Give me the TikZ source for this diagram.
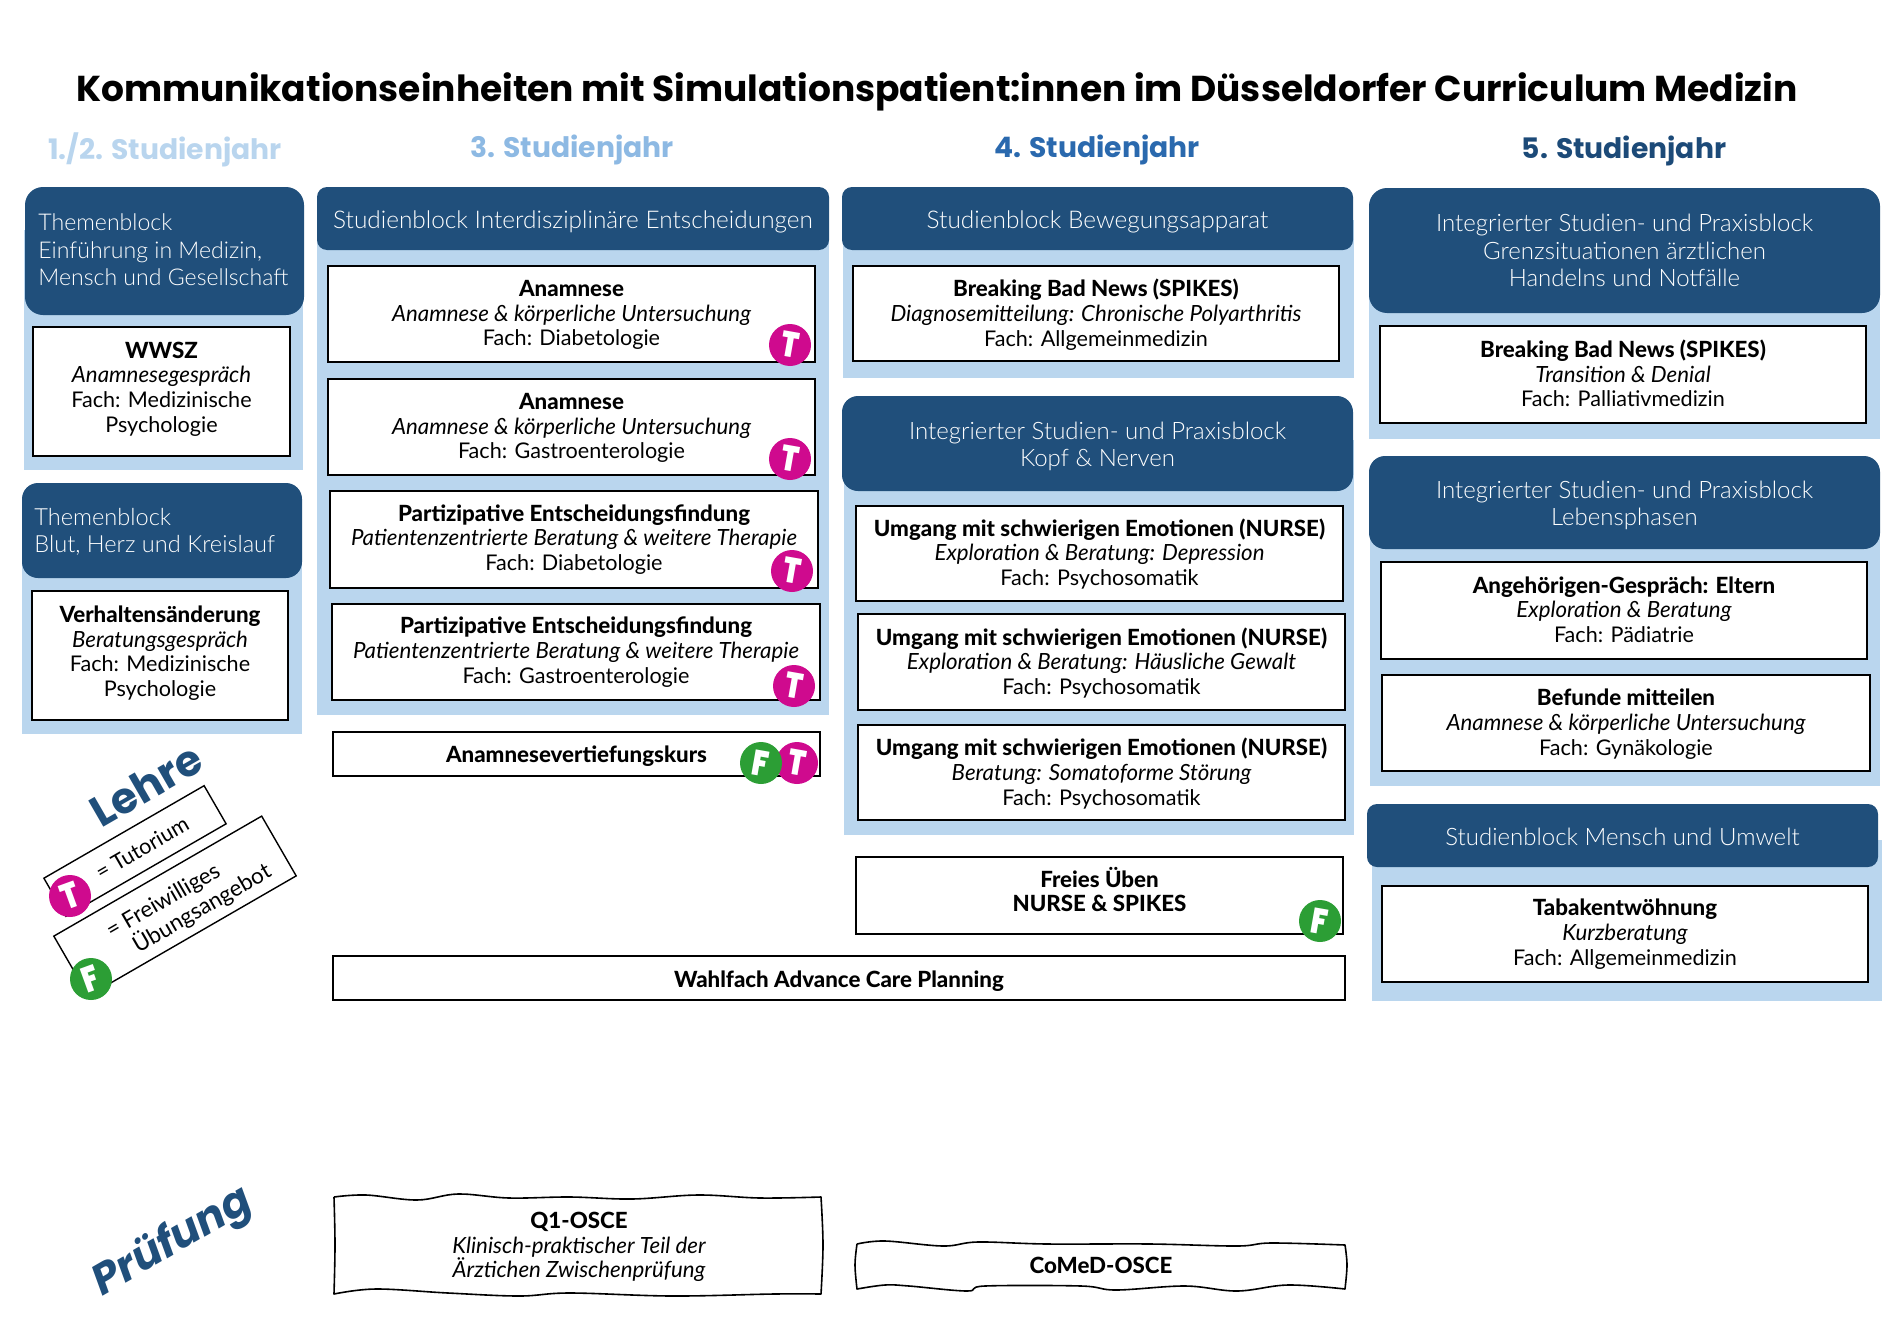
\documentclass[tikz,border=0pt]{standalone}
\usepackage{fontspec}
\setmainfont{Lato}[BoldFont={Lato Heavy}]
\newfontfamily\headfont{Lato Light}
\newfontfamily\titlefont{Poppins}
\newfontfamily\badgefont{Poppins Black}
\definecolor{headblue}{HTML}{204F7B}
\definecolor{panelblue}{HTML}{BAD6EE}
\definecolor{tmag}{HTML}{CF0A8E}
\definecolor{fgreen}{HTML}{2C9E35}
\definecolor{yearA}{HTML}{B9D5EE}
\definecolor{yearB}{HTML}{8DB9E3}
\definecolor{yearC}{HTML}{2A69AE}
\definecolor{yearD}{HTML}{1C4A78}
\newcommand{\bodysize}{\fontsize{10.8}{12.35}\selectfont}
\newcommand{\lbold}[1]{{\fontsize{11.15}{12.35}\selectfont\bfseries #1}}
\newcommand{\lital}[1]{{\fontsize{11.15}{12.35}\selectfont\itshape #1}}
\newcommand{\headsize}{\headfont\fontsize{12.0}{13.7}\selectfont}
\tikzset{
  x=0.5pt,y=-0.5pt,
  panelbox/.style={fill=panelblue,draw=none,inner sep=0pt},
  headbox/.style={fill=headblue,draw=none,rounded corners=5pt,inner sep=0pt},
  headlabel/.style={inner sep=0pt,text=white,align=center,font=\headsize},
  whitebox/.style={fill=white,draw=black,line width=0.9pt,inner sep=0pt},
  boxlabel/.style={inner sep=0pt,align=center,font=\bodysize},
  yeartext/.style={font=\titlefont\bfseries\fontsize{14.1}{17}\selectfont,inner sep=0pt},
  badge/.style={circle,minimum size=21pt,inner sep=0pt,text=white,font=\badgefont\fontsize{17}{17}\selectfont},
  tbadge/.style={badge,fill=tmag},
  fbadge/.style={badge,fill=fgreen},
  wavy/.style={line width=0.8pt,line join=round},
  legendbox/.style={draw=black,line width=0.7pt,fill=white,inner sep=0pt,rotate=30},
}
\newcommand{\rectnode}[6]{% style,name,x1,y1,x2,y2
  \pgfmathsetmacro{\rw}{(#5-#3)*0.5}\pgfmathsetmacro{\rh}{(#6-#4)*0.5}
  \node[#1,minimum width=\rw pt,minimum height=\rh pt] (#2) at ({(#3+#5)/2},{(#4+#6)/2}) {};}
% name, x1,y1,x2,y2, label dy, text
\newcommand{\boxat}[7]{\rectnode{whitebox}{#1}{#2}{#3}{#4}{#5}
  \node[boxlabel] (#1t) at ({(#2+#4)/2},{(#3+#5)/2+#6}) {#7};}
\newcommand{\lehre}[9]{\boxat{#1}{#2}{#3}{#4}{#5}{#6}{\lbold{#7}\\\lital{#8}\\#9}}
% head: style extra, name, x1,y1,x2,y2, label dy, text
\newcommand{\headat}[8]{\rectnode{headbox,#1}{#2}{#3}{#4}{#5}{#6}
  \node[headlabel] (#2t) at ({(#3+#5)/2},{(#4+#6)/2+#7}) {#8};}
\newcommand{\letterT}{\scalebox{0.82}[1.05]{T}}
\newcommand{\letterF}{\scalebox{0.82}[1.05]{F}}
\newcommand{\tbadgeat}[3]{\node[tbadge] (#1) at (#2,#3) {\rotatebox{-10}{\letterT}};}
\newcommand{\fbadgeat}[3]{\node[fbadge] (#1) at (#2,#3) {\rotatebox{-10}{\letterF}};}
\begin{document}
\begin{tikzpicture}
\useasboundingbox (0,0) rectangle (1900,1343);
% title
\node[font=\titlefont\bfseries\fontsize{18.0}{22}\selectfont,inner sep=0pt] (title) at (937,92) {Kommunikationseinheiten mit Simulationspatient:innen im Düsseldorfer Curriculum Medizin};
\node[yeartext,text=yearA] (y1) at (165,150) {1./2. Studienjahr};
\node[yeartext,text=yearB] (y3) at (572,150) {3. Studienjahr};
\node[yeartext,text=yearC] (y4) at (1097,150) {4. Studienjahr};
\node[yeartext,text=yearD] (y5) at (1624,151) {5. Studienjahr};
% panels
\rectnode{panelbox}{p1}{24}{230}{303}{470}
\rectnode{panelbox}{p2}{22}{520}{302}{734}
\rectnode{panelbox}{p3}{317}{220}{829}{715}
\rectnode{panelbox}{p4}{843}{220}{1354}{378}
\rectnode{panelbox}{p5}{844}{440}{1354}{835}
\rectnode{panelbox}{p6}{1369}{240}{1880}{439}
\rectnode{panelbox}{p7}{1370}{500}{1880}{786}
\rectnode{panelbox}{p8}{1372}{840}{1882}{1001}
% heads
\rectnode{headbox,rounded corners=9pt}{h1}{25}{187}{304}{315}
\node[headlabel,align=left,anchor=west,font=\headfont\fontsize{11.55}{13.7}\selectfont] (h1t) at (38,250) {Themenblock\\Einführung in Medizin,\\Mensch und Gesellschaft};
\rectnode{headbox,rounded corners=8pt}{h2}{22}{483}{302}{578}
\node[headlabel,align=left,anchor=west,font=\headfont\fontsize{11.8}{13.7}\selectfont] (h2t) at (34,532) {Themenblock\\Blut, Herz und Kreislauf};
\rectnode{headbox}{h3}{317}{187}{829}{250}
\node[headlabel,font=\headfont\fontsize{12.2}{13.7}\selectfont] (h3t) at (573,222) {Studienblock Interdisziplinäre Entscheidungen};
\rectnode{headbox}{h4}{842}{187}{1353}{250}
\node[headlabel,font=\headfont\fontsize{12.2}{13.7}\selectfont] (h4t) at (1097.5,222) {Studienblock Bewegungsapparat};
\headat{rounded corners=8pt}{h5}{842}{396}{1353}{491}{3}{Integrierter Studien- und Praxisblock\\Kopf \& Nerven}
\headat{rounded corners=9pt}{h6}{1369}{188}{1880}{313}{0}{Integrierter Studien- und Praxisblock\\Grenzsituationen ärztlichen\\Handelns und Notfälle}
\headat{rounded corners=8pt}{h7}{1369}{456}{1880}{549}{3}{Integrierter Studien- und Praxisblock\\Lebensphasen}
\headat{}{h8}{1367}{804}{1878}{867}{1}{Studienblock Mensch und Umwelt}
% boxes col 1
\lehre{a1}{33}{327}{290}{456}{-2.4}{WWSZ}{Anamnesegespräch}{Fach: Medizinische\\Psychologie}
\lehre{a2}{32}{591}{288}{720}{-2.4}{Verhaltensänderung}{Beratungsgespräch}{Fach: Medizinische\\Psychologie}
% col 2
\lehre{b1}{328}{266}{815}{362}{1}{Anamnese}{Anamnese \& körperliche Untersuchung}{Fach: Diabetologie}
\lehre{b2}{328}{379}{815}{475}{1}{Anamnese}{Anamnese \& körperliche Untersuchung}{Fach: Gastroenterologie}
\lehre{b3}{330}{491}{818}{588}{0}{Partizipative Entscheidungsfindung}{Patientenzentrierte Beratung \& weitere Therapie}{Fach: Diabetologie}
\lehre{b4}{332}{604}{820}{700}{0}{Partizipative Entscheidungsfindung}{Patientenzentrierte Beratung \& weitere Therapie}{Fach: Gastroenterologie}
\boxat{b5}{333}{732}{820}{776}{2.4}{\lbold{Anamnesevertiefungskurs}}
% col 3
\lehre{c1}{853}{266}{1339}{361}{1}{Breaking Bad News (SPIKES)}{Diagnosemitteilung: Chronische Polyarthritis}{Fach: Allgemeinmedizin}
\lehre{c2}{856}{506}{1343}{601}{0.5}{Umgang mit schwierigen Emotionen (NURSE)}{Exploration \& Beratung: Depression}{Fach: Psychosomatik}
\lehre{c3}{858}{614}{1345}{710}{1}{Umgang mit schwierigen Emotionen (NURSE)}{Exploration \& Beratung: Häusliche Gewalt}{Fach: Psychosomatik}
\lehre{c4}{858}{725}{1345}{820}{1}{Umgang mit schwierigen Emotionen (NURSE)}{Beratung: Somatoforme Störung}{Fach: Psychosomatik}
\boxat{c5}{856}{857}{1343}{934}{-6}{\lbold{Freies Üben}\\\lbold{NURSE \& SPIKES}}
\boxat{w1}{333}{956}{1345}{1000}{3.4}{\lbold{Wahlfach Advance Care Planning}}
% col 4
\lehre{d1}{1380}{326}{1866}{423}{-1.2}{Breaking Bad News (SPIKES)}{Transition \& Denial}{Fach: Palliativmedizin}
\lehre{d2}{1381}{562}{1867}{659}{-1}{Angehörigen-Gespräch: Eltern}{Exploration \& Beratung}{Fach: Pädiatrie}
\lehre{d3}{1382}{675}{1870}{771}{1}{Befunde mitteilen}{Anamnese \& körperliche Untersuchung}{Fach: Gynäkologie}
\lehre{d4}{1382}{886}{1868}{982}{0}{Tabakentwöhnung}{Kurzberatung}{Fach: Allgemeinmedizin}
% badges
\tbadgeat{t1}{790}{345}
\tbadgeat{t2}{790}{459}
\tbadgeat{t3}{792}{571}
\tbadgeat{t4}{794}{686}
\tbadgeat{t5}{797}{763}
\fbadgeat{f1}{761}{763}
\fbadgeat{f2}{1320}{921}
% legend
\node[font=\titlefont\bfseries\fontsize{21.5}{26}\selectfont,text=headblue,rotate=30,inner sep=0pt] (lehre) at (146,785) {Lehre};
\node[legendbox,minimum width=92.5pt,minimum height=22pt] (lt) at (135,851) {};
\node[legendbox,minimum width=120pt,minimum height=34.5pt] (lf) at (175,906) {};
\node[rotate=30,inner sep=0pt,font=\bodysize] (ltt) at (142,848) {= Tutorium};
\node[rotate=30,inner sep=0pt,align=left,font=\fontsize{11.2}{13}\selectfont] (lft) at (189,902) {= Freiwilliges\\\hspace*{8pt}Übungsangebot};
\node[tbadge] (lt1) at (70,896) {\rotatebox{20}{\letterT}};
\node[fbadge] (lf1) at (91,979) {\rotatebox{20}{\letterF}};
\node[font=\titlefont\bfseries\itshape\fontsize{21.4}{26}\selectfont,text=headblue,rotate=30,inner sep=0pt] (pruef) at (173,1243) {Prüfung};
% wavy exam boxes
\draw[wavy] plot[smooth,tension=.6] coordinates {(334,1197)(366,1195)(417,1200)(458,1194)(509,1198)(570,1197)(632,1199)(698,1195)(760,1198)(821,1197)}
 -- plot[smooth,tension=.6] coordinates {(821,1197)(823,1245)(821,1294)}
 -- plot[smooth,tension=.6] coordinates {(821,1294)(774,1294)(672,1296)(570,1293)(519,1296)(448,1293)(376,1289)(334,1294)}
 -- plot[smooth,tension=.6] coordinates {(334,1294)(335,1245)(334,1197)};
\node[boxlabel] (q1) at (579,1247) {\lbold{Q1-OSCE}\\\lital{Klinisch-praktischer Teil der}\\\lital{Ärztichen Zwischenprüfung}};
\draw[wavy] plot[smooth,tension=.6] coordinates {(857,1244)(885,1241)(943,1246)(978,1242)(1047,1244)(1150,1244)(1237,1246)(1271,1243)(1345,1245)}
 -- plot[smooth,tension=.6] coordinates {(1345,1245)(1347,1265)(1345,1289)}
 -- plot[smooth,tension=.6] coordinates {(1345,1289)(1288,1285)(1237,1291)(1185,1286)(1116,1290)(1081,1286)(985,1286)(967,1291)(909,1286)(885,1285)(857,1289)}
 -- plot[smooth,tension=.6] coordinates {(857,1289)(855,1265)(857,1244)};
\node[boxlabel] (co) at (1101,1265) {\lbold{CoMeD-OSCE}};
\end{tikzpicture}
\end{document}
